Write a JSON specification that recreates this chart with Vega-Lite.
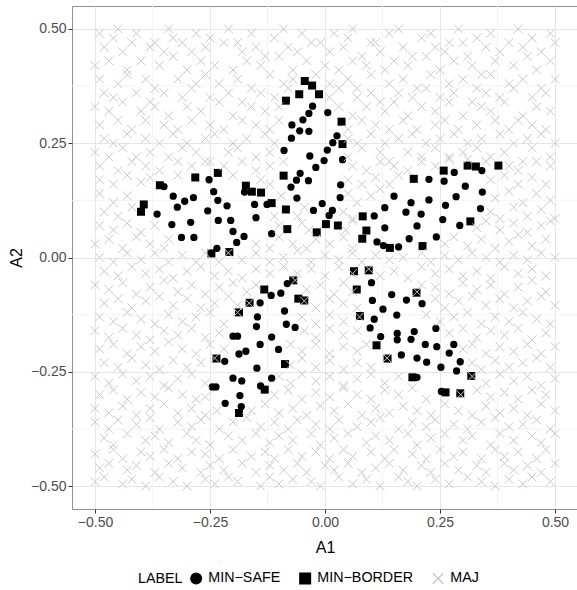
{
"$schema":"https://vega.github.io/schema/vega-lite/v6.json",
"autosize":{"type":"none"},
"padding":{"left":72,"top":6,"right":0,"bottom":80},
"width":506,"height":503,
"background":"white",
"config":{"font":"Liberation Sans","view":{"stroke":"#8f8f8f","strokeWidth":1},
"axis":{"labelFontSize":14,"labelColor":"#4d4d4d","titleFontSize":16,"titleFontWeight":"normal","titleColor":"#000000","tickColor":"#333333","tickSize":4,"domain":false,"gridColor":"#e6e6e6","gridWidth":1,"labelPadding":2}},
"datasets":{
"minor":[{"v":-0.375},{"v":-0.125},{"v":0.125},{"v":0.375}],
"safe":[
{"a":-0.330,"b":0.134},{"a":-0.305,"b":0.123},{"a":-0.286,"b":0.131},{"a":-0.321,"b":0.110},{"a":-0.365,"b":0.095},{"a":-0.333,"b":0.072},{"a":-0.292,"b":0.077},{"a":-0.312,"b":0.044},{"a":-0.285,"b":0.044},{"a":-0.242,"b":0.144},{"a":-0.233,"b":0.125},{"a":-0.255,"b":0.102},{"a":-0.213,"b":0.113},{"a":-0.232,"b":0.081},{"a":-0.205,"b":0.081},{"a":-0.200,"b":0.057},{"a":-0.176,"b":0.046},{"a":-0.192,"b":0.033},{"a":-0.235,"b":0.020},{"a":-0.153,"b":0.116},{"a":-0.150,"b":0.087},{"a":-0.126,"b":0.116},{"a":-0.116,"b":0.052},{"a":-0.350,"b":0.155},{"a":-0.175,"b":0.143},{"a":-0.252,"b":0.170},
{"a":-0.027,"b":0.331},{"a":-0.035,"b":0.315},{"a":0.006,"b":0.317},{"a":-0.048,"b":0.301},{"a":-0.072,"b":0.290},{"a":-0.055,"b":0.277},{"a":-0.035,"b":0.276},{"a":-0.073,"b":0.261},{"a":0.026,"b":0.266},{"a":0.017,"b":0.251},{"a":0.005,"b":0.235},{"a":-0.089,"b":0.234},{"a":-0.033,"b":0.222},{"a":-0.002,"b":0.212},{"a":0.038,"b":0.214},{"a":-0.020,"b":0.197},{"a":-0.054,"b":0.184},{"a":-0.062,"b":0.169},{"a":-0.036,"b":0.168},{"a":-0.074,"b":0.154},{"a":0.034,"b":0.159},{"a":-0.061,"b":0.130},{"a":0.033,"b":0.131},{"a":-0.006,"b":0.118},{"a":-0.025,"b":0.103},{"a":0.016,"b":0.103},{"a":0.009,"b":0.092},
{"a":0.281,"b":0.186},{"a":0.341,"b":0.190},{"a":0.226,"b":0.171},{"a":0.259,"b":0.167},{"a":0.305,"b":0.156},{"a":0.342,"b":0.143},{"a":0.150,"b":0.134},{"a":0.285,"b":0.133},{"a":0.226,"b":0.126},{"a":0.187,"b":0.120},{"a":0.262,"b":0.114},{"a":0.130,"b":0.109},{"a":0.338,"b":0.107},{"a":0.176,"b":0.099},{"a":0.209,"b":0.095},{"a":0.107,"b":0.091},{"a":0.256,"b":0.083},{"a":0.293,"b":0.070},{"a":0.200,"b":0.069},{"a":0.130,"b":0.065},{"a":0.242,"b":0.045},{"a":0.183,"b":0.041},{"a":0.113,"b":0.034},{"a":0.127,"b":0.026},{"a":0.160,"b":0.023},
{"a":-0.082,"b":-0.057},{"a":-0.096,"b":-0.078},{"a":-0.117,"b":-0.083},{"a":-0.141,"b":-0.099},{"a":-0.088,"b":-0.117},{"a":-0.147,"b":-0.130},{"a":-0.149,"b":-0.151},{"a":-0.084,"b":-0.146},{"a":-0.065,"b":-0.153},{"a":-0.200,"b":-0.172},{"a":-0.190,"b":-0.172},{"a":-0.116,"b":-0.174},{"a":-0.141,"b":-0.190},{"a":-0.101,"b":-0.201},{"a":-0.172,"b":-0.205},{"a":-0.187,"b":-0.211},{"a":-0.218,"b":-0.227},{"a":-0.148,"b":-0.242},{"a":-0.200,"b":-0.264},{"a":-0.181,"b":-0.270},{"a":-0.116,"b":-0.264},{"a":-0.245,"b":-0.283},{"a":-0.237,"b":-0.283},{"a":-0.140,"b":-0.281},{"a":-0.185,"b":-0.302},{"a":-0.217,"b":-0.319},{"a":-0.182,"b":-0.326},
{"a":0.101,"b":-0.055},{"a":0.145,"b":-0.081},{"a":0.103,"b":-0.094},{"a":0.177,"b":-0.093},{"a":0.211,"b":-0.101},{"a":0.126,"b":-0.113},{"a":0.156,"b":-0.126},{"a":0.107,"b":-0.135},{"a":0.098,"b":-0.154},{"a":0.241,"b":-0.155},{"a":0.157,"b":-0.166},{"a":0.194,"b":-0.162},{"a":0.121,"b":-0.173},{"a":0.157,"b":-0.180},{"a":0.187,"b":-0.179},{"a":0.218,"b":-0.190},{"a":0.243,"b":-0.195},{"a":0.280,"b":-0.190},{"a":0.270,"b":-0.209},{"a":0.166,"b":-0.213},{"a":0.200,"b":-0.220},{"a":0.221,"b":-0.229},{"a":0.294,"b":-0.228},{"a":0.252,"b":-0.240},{"a":0.286,"b":-0.248},{"a":0.200,"b":-0.262},{"a":0.253,"b":-0.293}
],
"border":[
{"a":-0.282,"b":0.175},{"a":-0.233,"b":0.185},{"a":-0.359,"b":0.158},{"a":-0.172,"b":0.157},{"a":-0.159,"b":0.144},{"a":-0.139,"b":0.142},{"a":-0.394,"b":0.116},{"a":-0.400,"b":0.100},{"a":-0.116,"b":0.119},{"a":-0.090,"b":0.179},{"a":-0.085,"b":0.105},{"a":-0.247,"b":0.009},{"a":-0.208,"b":0.012},
{"a":-0.044,"b":0.386},{"a":-0.028,"b":0.376},{"a":-0.056,"b":0.357},{"a":-0.013,"b":0.357},{"a":-0.085,"b":0.343},{"a":0.036,"b":0.297},{"a":0.038,"b":0.248},{"a":0.002,"b":0.073},{"a":0.028,"b":0.070},{"a":-0.082,"b":0.062},{"a":-0.018,"b":0.055},
{"a":0.082,"b":0.090},{"a":0.258,"b":0.190},{"a":0.310,"b":0.201},{"a":0.328,"b":0.199},{"a":0.377,"b":0.201},{"a":0.193,"b":0.172},{"a":0.090,"b":0.059},{"a":0.081,"b":0.041},{"a":0.316,"b":0.079},{"a":0.212,"b":0.025},{"a":0.141,"b":0.021},
{"a":-0.069,"b":-0.050},{"a":-0.132,"b":-0.070},{"a":-0.058,"b":-0.090},{"a":-0.045,"b":-0.094},{"a":-0.164,"b":-0.099},{"a":-0.187,"b":-0.120},{"a":-0.236,"b":-0.221},{"a":-0.087,"b":-0.233},{"a":-0.131,"b":-0.289},{"a":-0.187,"b":-0.340},
{"a":0.063,"b":-0.030},{"a":0.095,"b":-0.028},{"a":0.069,"b":-0.070},{"a":0.199,"b":-0.077},{"a":0.076,"b":-0.128},{"a":0.112,"b":-0.192},{"a":0.136,"b":-0.221},{"a":0.190,"b":-0.262},{"a":0.262,"b":-0.295},{"a":0.318,"b":-0.259},{"a":0.294,"b":-0.297}
],
"maj":[
{"a":-0.49,"b":0.49},{"a":-0.46,"b":0.48},{"a":-0.45,"b":0.5},{"a":-0.41,"b":0.49},{"a":-0.37,"b":0.47},{"a":-0.34,"b":0.5},{"a":-0.33,"b":0.48},{"a":-0.28,"b":0.49},{"a":-0.25,"b":0.48},{"a":-0.21,"b":0.5},{"a":-0.19,"b":0.47},{"a":-0.16,"b":0.49},{"a":-0.11,"b":0.48},{"a":-0.09,"b":0.5},{"a":-0.05,"b":0.49},{"a":-0.03,"b":0.47},{"a":0.02,"b":0.49},{"a":0.05,"b":0.48},{"a":0.06,"b":0.5},{"a":0.1,"b":0.47},{"a":0.14,"b":0.49},{"a":0.16,"b":0.5},{"a":0.21,"b":0.48},{"a":0.23,"b":0.49},{"a":0.27,"b":0.47},{"a":0.29,"b":0.5},{"a":0.33,"b":0.48},{"a":0.36,"b":0.49},{"a":0.4,"b":0.47},{"a":0.42,"b":0.5},{"a":0.45,"b":0.48},{"a":0.49,"b":0.49},
{"a":-0.48,"b":0.46},{"a":-0.44,"b":0.45},{"a":-0.42,"b":0.47},{"a":-0.38,"b":0.46},{"a":-0.35,"b":0.45},{"a":-0.31,"b":0.47},{"a":-0.29,"b":0.45},{"a":-0.26,"b":0.46},{"a":-0.22,"b":0.47},{"a":-0.18,"b":0.45},{"a":-0.15,"b":0.46},{"a":-0.13,"b":0.44},{"a":-0.08,"b":0.46},{"a":-0.06,"b":0.45},{"a":-0.01,"b":0.47},{"a":0.01,"b":0.45},{"a":0.04,"b":0.46},{"a":0.08,"b":0.44},{"a":0.11,"b":0.47},{"a":0.12,"b":0.45},{"a":0.17,"b":0.46},{"a":0.19,"b":0.44},{"a":0.24,"b":0.46},{"a":0.26,"b":0.45},{"a":0.3,"b":0.47},{"a":0.31,"b":0.44},{"a":0.35,"b":0.46},{"a":0.38,"b":0.45},{"a":0.43,"b":0.46},{"a":0.47,"b":0.45},{"a":0.5,"b":0.47},
{"a":-0.5,"b":0.42},{"a":-0.47,"b":0.43},{"a":-0.43,"b":0.41},{"a":-0.4,"b":0.43},{"a":-0.36,"b":0.42},{"a":-0.33,"b":0.44},{"a":-0.3,"b":0.41},{"a":-0.27,"b":0.43},{"a":-0.24,"b":0.42},{"a":-0.2,"b":0.41},{"a":-0.17,"b":0.43},{"a":-0.14,"b":0.42},{"a":-0.1,"b":0.44},{"a":-0.07,"b":0.41},{"a":-0.04,"b":0.43},{"a":0,"b":0.42},{"a":0.03,"b":0.41},{"a":0.06,"b":0.43},{"a":0.09,"b":0.42},{"a":0.13,"b":0.41},{"a":0.15,"b":0.43},{"a":0.18,"b":0.42},{"a":0.22,"b":0.44},{"a":0.25,"b":0.41},{"a":0.28,"b":0.43},{"a":0.32,"b":0.42},{"a":0.34,"b":0.4},{"a":0.37,"b":0.43},{"a":0.41,"b":0.42},{"a":0.44,"b":0.44},{"a":0.46,"b":0.41},{"a":0.49,"b":0.43},
{"a":-0.49,"b":0.39},{"a":-0.45,"b":0.38},{"a":-0.43,"b":0.4},{"a":-0.39,"b":0.39},{"a":-0.37,"b":0.37},{"a":-0.32,"b":0.39},{"a":-0.28,"b":0.38},{"a":-0.26,"b":0.4},{"a":-0.23,"b":0.38},{"a":-0.19,"b":0.39},{"a":-0.16,"b":0.37},{"a":-0.12,"b":0.4},{"a":-0.09,"b":0.38},{"a":-0.07,"b":0.39},{"a":-0.02,"b":0.4},{"a":0.01,"b":0.38},{"a":0.05,"b":0.39},{"a":0.07,"b":0.37},{"a":0.1,"b":0.4},{"a":0.14,"b":0.38},{"a":0.17,"b":0.39},{"a":0.2,"b":0.37},{"a":0.23,"b":0.4},{"a":0.27,"b":0.38},{"a":0.3,"b":0.39},{"a":0.33,"b":0.37},{"a":0.36,"b":0.4},{"a":0.4,"b":0.38},{"a":0.43,"b":0.39},{"a":0.47,"b":0.37},{"a":0.5,"b":0.39},
{"a":-0.48,"b":0.36},{"a":-0.46,"b":0.35},{"a":-0.41,"b":0.36},{"a":-0.38,"b":0.34},{"a":-0.35,"b":0.36},{"a":-0.31,"b":0.35},{"a":-0.29,"b":0.37},{"a":-0.25,"b":0.35},{"a":-0.21,"b":0.36},{"a":-0.18,"b":0.34},{"a":-0.14,"b":0.36},{"a":-0.11,"b":0.35},{"a":-0.08,"b":0.37},{"a":0.01,"b":0.35},{"a":0.03,"b":0.37},{"a":0.07,"b":0.35},{"a":0.1,"b":0.36},{"a":0.12,"b":0.34},{"a":0.16,"b":0.36},{"a":0.19,"b":0.35},{"a":0.22,"b":0.37},{"a":0.25,"b":0.35},{"a":0.28,"b":0.36},{"a":0.32,"b":0.34},{"a":0.35,"b":0.36},{"a":0.38,"b":0.35},{"a":0.41,"b":0.37},{"a":0.45,"b":0.35},{"a":0.48,"b":0.36},
{"a":-0.5,"b":0.33},{"a":-0.47,"b":0.32},{"a":-0.44,"b":0.34},{"a":-0.4,"b":0.32},{"a":-0.37,"b":0.33},{"a":-0.34,"b":0.31},{"a":-0.3,"b":0.33},{"a":-0.27,"b":0.32},{"a":-0.23,"b":0.34},{"a":-0.2,"b":0.31},{"a":-0.16,"b":0.33},{"a":-0.13,"b":0.32},{"a":-0.1,"b":0.33},{"a":0.03,"b":0.33},{"a":0.06,"b":0.31},{"a":0.09,"b":0.33},{"a":0.13,"b":0.32},{"a":0.15,"b":0.34},{"a":0.18,"b":0.31},{"a":0.21,"b":0.33},{"a":0.24,"b":0.32},{"a":0.27,"b":0.34},{"a":0.3,"b":0.31},{"a":0.34,"b":0.33},{"a":0.36,"b":0.32},{"a":0.39,"b":0.34},{"a":0.43,"b":0.31},{"a":0.46,"b":0.33},{"a":0.49,"b":0.32},
{"a":-0.49,"b":0.29},{"a":-0.45,"b":0.3},{"a":-0.42,"b":0.28},{"a":-0.39,"b":0.3},{"a":-0.35,"b":0.29},{"a":-0.32,"b":0.28},{"a":-0.29,"b":0.3},{"a":-0.25,"b":0.29},{"a":-0.22,"b":0.28},{"a":-0.18,"b":0.3},{"a":-0.15,"b":0.29},{"a":-0.12,"b":0.28},{"a":-0.1,"b":0.3},{"a":0.05,"b":0.28},{"a":0.08,"b":0.3},{"a":0.11,"b":0.29},{"a":0.14,"b":0.28},{"a":0.17,"b":0.3},{"a":0.2,"b":0.28},{"a":0.24,"b":0.29},{"a":0.26,"b":0.3},{"a":0.29,"b":0.28},{"a":0.33,"b":0.29},{"a":0.37,"b":0.3},{"a":0.4,"b":0.28},{"a":0.42,"b":0.3},{"a":0.45,"b":0.29},{"a":0.48,"b":0.28},
{"a":-0.48,"b":0.26},{"a":-0.46,"b":0.25},{"a":-0.43,"b":0.27},{"a":-0.39,"b":0.26},{"a":-0.36,"b":0.25},{"a":-0.33,"b":0.27},{"a":-0.3,"b":0.25},{"a":-0.26,"b":0.26},{"a":-0.24,"b":0.27},{"a":-0.2,"b":0.25},{"a":-0.17,"b":0.26},{"a":-0.13,"b":0.27},{"a":-0.11,"b":0.25},{"a":0.05,"b":0.26},{"a":0.07,"b":0.25},{"a":0.1,"b":0.27},{"a":0.13,"b":0.25},{"a":0.16,"b":0.26},{"a":0.19,"b":0.27},{"a":0.22,"b":0.25},{"a":0.25,"b":0.26},{"a":0.28,"b":0.27},{"a":0.31,"b":0.25},{"a":0.34,"b":0.26},{"a":0.38,"b":0.27},{"a":0.41,"b":0.25},{"a":0.44,"b":0.26},{"a":0.47,"b":0.27},{"a":0.5,"b":0.25},
{"a":-0.5,"b":0.23},{"a":-0.47,"b":0.22},{"a":-0.44,"b":0.24},{"a":-0.41,"b":0.22},{"a":-0.38,"b":0.23},{"a":-0.34,"b":0.22},{"a":-0.31,"b":0.24},{"a":-0.28,"b":0.23},{"a":-0.25,"b":0.21},{"a":-0.21,"b":0.23},{"a":-0.19,"b":0.24},{"a":-0.15,"b":0.22},{"a":-0.12,"b":0.23},{"a":0.05,"b":0.22},{"a":0.08,"b":0.24},{"a":0.12,"b":0.23},{"a":0.14,"b":0.21},{"a":0.18,"b":0.23},{"a":0.21,"b":0.22},{"a":0.24,"b":0.24},{"a":0.27,"b":0.22},{"a":0.3,"b":0.23},{"a":0.33,"b":0.24},{"a":0.36,"b":0.22},{"a":0.39,"b":0.23},{"a":0.43,"b":0.21},{"a":0.45,"b":0.24},{"a":0.49,"b":0.22},
{"a":-0.49,"b":0.2},{"a":-0.45,"b":0.19},{"a":-0.42,"b":0.21},{"a":-0.39,"b":0.2},{"a":-0.36,"b":0.19},{"a":-0.32,"b":0.21},{"a":-0.29,"b":0.2},{"a":-0.26,"b":0.21},{"a":-0.22,"b":0.2},{"a":-0.18,"b":0.21},{"a":-0.15,"b":0.19},{"a":-0.12,"b":0.2},{"a":-0.09,"b":0.21},{"a":0.06,"b":0.2},{"a":0.09,"b":0.19},{"a":0.12,"b":0.21},{"a":0.15,"b":0.2},{"a":0.18,"b":0.19},{"a":0.21,"b":0.21},{"a":0.24,"b":0.2},{"a":0.27,"b":0.215},{"a":0.31,"b":0.215},{"a":0.35,"b":0.21},{"a":0.4,"b":0.2},{"a":0.42,"b":0.19},{"a":0.46,"b":0.21},{"a":0.49,"b":0.2},
{"a":-0.49,"b":0.17},{"a":-0.46,"b":0.16},{"a":-0.43,"b":0.18},{"a":-0.4,"b":0.165},{"a":-0.38,"b":0.175},{"a":-0.32,"b":0.18},{"a":-0.2,"b":0.18},{"a":-0.14,"b":0.17},{"a":-0.12,"b":0.16},{"a":0.05,"b":0.17},{"a":0.08,"b":0.16},{"a":0.11,"b":0.175},{"a":0.14,"b":0.16},{"a":0.16,"b":0.18},{"a":0.36,"b":0.17},{"a":0.39,"b":0.18},{"a":0.42,"b":0.16},{"a":0.45,"b":0.175},{"a":0.48,"b":0.16},
{"a":-0.49,"b":0.14},{"a":-0.46,"b":0.12},{"a":-0.43,"b":0.135},{"a":-0.095,"b":0.135},{"a":0.05,"b":0.14},{"a":0.07,"b":0.12},{"a":0.1,"b":0.135},{"a":0.12,"b":0.15},{"a":0.37,"b":0.13},{"a":0.4,"b":0.145},{"a":0.43,"b":0.12},{"a":0.46,"b":0.14},{"a":0.49,"b":0.125},
{"a":-0.48,"b":0.1},{"a":-0.45,"b":0.09},{"a":-0.42,"b":0.11},{"a":-0.11,"b":0.09},{"a":-0.06,"b":0.09},{"a":-0.045,"b":0.11},{"a":0.04,"b":0.1},{"a":0.06,"b":0.085},{"a":0.36,"b":0.1},{"a":0.38,"b":0.085},{"a":0.41,"b":0.11},{"a":0.44,"b":0.09},{"a":0.47,"b":0.105},{"a":0.5,"b":0.085},
{"a":-0.49,"b":0.07},{"a":-0.46,"b":0.06},{"a":-0.43,"b":0.075},{"a":-0.4,"b":0.055},{"a":-0.37,"b":0.07},{"a":-0.1,"b":0.07},{"a":-0.05,"b":0.075},{"a":-0.035,"b":0.06},{"a":0.045,"b":0.06},{"a":0.06,"b":0.08},{"a":0.33,"b":0.065},{"a":0.35,"b":0.08},{"a":0.38,"b":0.06},{"a":0.41,"b":0.075},{"a":0.44,"b":0.055},{"a":0.47,"b":0.07},{"a":0.49,"b":0.08},
{"a":-0.5,"b":0.03},{"a":-0.47,"b":0.04},{"a":-0.44,"b":0.02},{"a":-0.41,"b":0.045},{"a":-0.38,"b":0.03},{"a":-0.35,"b":0.02},{"a":-0.34,"b":0.04},{"a":-0.15,"b":0.03},{"a":-0.12,"b":0.02},{"a":-0.1,"b":0.045},{"a":-0.07,"b":0.03},{"a":-0.04,"b":0.02},{"a":-0.02,"b":0.04},{"a":0.01,"b":0.03},{"a":0.04,"b":0.045},{"a":0.06,"b":0.02},{"a":0.26,"b":0.03},{"a":0.28,"b":0.045},{"a":0.31,"b":0.025},{"a":0.34,"b":0.04},{"a":0.37,"b":0.02},{"a":0.4,"b":0.035},{"a":0.42,"b":0.05},{"a":0.45,"b":0.025},{"a":0.48,"b":0.04},
{"a":-0.49,"b":0},{"a":-0.46,"b":-0.01},{"a":-0.43,"b":0.01},{"a":-0.4,"b":-0.005},{"a":-0.37,"b":0.01},{"a":-0.34,"b":-0.01},{"a":-0.31,"b":0.005},{"a":-0.28,"b":-0.01},{"a":-0.26,"b":0.01},{"a":-0.23,"b":-0.01},{"a":-0.21,"b":0.01},{"a":-0.18,"b":-0.005},{"a":-0.15,"b":0.01},{"a":-0.12,"b":-0.01},{"a":-0.09,"b":0},{"a":-0.06,"b":0.015},{"a":-0.03,"b":-0.01},{"a":0,"b":0.005},{"a":0.03,"b":-0.005},{"a":0.06,"b":0.01},{"a":0.08,"b":-0.01},{"a":0.11,"b":0.005},{"a":0.14,"b":-0.005},{"a":0.17,"b":0},{"a":0.21,"b":0.01},{"a":0.23,"b":-0.01},{"a":0.26,"b":0.005},{"a":0.29,"b":-0.005},{"a":0.32,"b":0.01},{"a":0.35,"b":0},{"a":0.38,"b":-0.01},{"a":0.41,"b":0.005},{"a":0.44,"b":-0.005},{"a":0.47,"b":0.01},{"a":0.5,"b":0},
{"a":-0.48,"b":-0.03},{"a":-0.45,"b":-0.04},{"a":-0.42,"b":-0.02},{"a":-0.39,"b":-0.035},{"a":-0.36,"b":-0.025},{"a":-0.33,"b":-0.045},{"a":-0.3,"b":-0.03},{"a":-0.27,"b":-0.02},{"a":-0.24,"b":-0.04},{"a":-0.21,"b":-0.03},{"a":-0.18,"b":-0.045},{"a":-0.15,"b":-0.025},{"a":-0.12,"b":-0.035},{"a":-0.09,"b":-0.02},{"a":-0.06,"b":-0.035},{"a":-0.03,"b":-0.025},{"a":0,"b":-0.04},{"a":0.03,"b":-0.02},{"a":0.06,"b":-0.035},{"a":0.095,"b":-0.025},{"a":0.12,"b":-0.04},{"a":0.15,"b":-0.03},{"a":0.18,"b":-0.045},{"a":0.21,"b":-0.02},{"a":0.24,"b":-0.035},{"a":0.27,"b":-0.025},{"a":0.3,"b":-0.04},{"a":0.33,"b":-0.03},{"a":0.36,"b":-0.045},{"a":0.39,"b":-0.02},{"a":0.42,"b":-0.035},{"a":0.45,"b":-0.025},{"a":0.48,"b":-0.04},
{"a":-0.5,"b":-0.06},{"a":-0.47,"b":-0.07},{"a":-0.44,"b":-0.055},{"a":-0.41,"b":-0.08},{"a":-0.38,"b":-0.065},{"a":-0.35,"b":-0.05},{"a":-0.32,"b":-0.075},{"a":-0.29,"b":-0.06},{"a":-0.26,"b":-0.08},{"a":-0.23,"b":-0.065},{"a":-0.2,"b":-0.055},{"a":-0.17,"b":-0.075},{"a":-0.15,"b":-0.06},{"a":-0.065,"b":-0.05},{"a":-0.04,"b":-0.07},{"a":-0.01,"b":-0.06},{"a":0.02,"b":-0.08},{"a":0.04,"b":-0.055},{"a":0.06,"b":-0.075},{"a":0.21,"b":-0.06},{"a":0.2,"b":-0.075},{"a":0.24,"b":-0.065},{"a":0.27,"b":-0.08},{"a":0.3,"b":-0.055},{"a":0.33,"b":-0.07},{"a":0.36,"b":-0.06},{"a":0.39,"b":-0.08},{"a":0.42,"b":-0.065},{"a":0.45,"b":-0.05},{"a":0.48,"b":-0.075},
{"a":-0.48,"b":-0.1},{"a":-0.45,"b":-0.09},{"a":-0.42,"b":-0.11},{"a":-0.39,"b":-0.095},{"a":-0.36,"b":-0.085},{"a":-0.33,"b":-0.105},{"a":-0.3,"b":-0.09},{"a":-0.27,"b":-0.11},{"a":-0.24,"b":-0.1},{"a":-0.21,"b":-0.085},{"a":-0.19,"b":-0.105},{"a":-0.165,"b":-0.1},{"a":-0.045,"b":-0.095},{"a":-0.02,"b":-0.11},{"a":0.01,"b":-0.09},{"a":0.04,"b":-0.1},{"a":0.07,"b":-0.11},{"a":0.24,"b":-0.09},{"a":0.26,"b":-0.11},{"a":0.29,"b":-0.095},{"a":0.32,"b":-0.085},{"a":0.35,"b":-0.105},{"a":0.38,"b":-0.09},{"a":0.41,"b":-0.11},{"a":0.44,"b":-0.095},{"a":0.47,"b":-0.085},{"a":0.5,"b":-0.105},
{"a":-0.49,"b":-0.13},{"a":-0.46,"b":-0.14},{"a":-0.43,"b":-0.12},{"a":-0.4,"b":-0.135},{"a":-0.37,"b":-0.145},{"a":-0.34,"b":-0.125},{"a":-0.31,"b":-0.14},{"a":-0.28,"b":-0.13},{"a":-0.25,"b":-0.12},{"a":-0.22,"b":-0.145},{"a":-0.19,"b":-0.12},{"a":-0.05,"b":-0.13},{"a":-0.02,"b":-0.145},{"a":0.01,"b":-0.125},{"a":0.04,"b":-0.14},{"a":0.075,"b":-0.13},{"a":0.22,"b":-0.125},{"a":0.25,"b":-0.14},{"a":0.28,"b":-0.13},{"a":0.31,"b":-0.12},{"a":0.34,"b":-0.145},{"a":0.37,"b":-0.13},{"a":0.4,"b":-0.14},{"a":0.43,"b":-0.12},{"a":0.46,"b":-0.135},{"a":0.49,"b":-0.145},
{"a":-0.5,"b":-0.16},{"a":-0.47,"b":-0.175},{"a":-0.44,"b":-0.155},{"a":-0.41,"b":-0.17},{"a":-0.38,"b":-0.18},{"a":-0.35,"b":-0.16},{"a":-0.32,"b":-0.17},{"a":-0.29,"b":-0.155},{"a":-0.26,"b":-0.175},{"a":-0.23,"b":-0.165},{"a":-0.045,"b":-0.16},{"a":-0.02,"b":-0.175},{"a":0.01,"b":-0.155},{"a":0.04,"b":-0.17},{"a":0.07,"b":-0.16},{"a":0.27,"b":-0.165},{"a":0.3,"b":-0.155},{"a":0.33,"b":-0.175},{"a":0.36,"b":-0.16},{"a":0.39,"b":-0.17},{"a":0.42,"b":-0.155},{"a":0.45,"b":-0.18},{"a":0.48,"b":-0.165},
{"a":-0.49,"b":-0.2},{"a":-0.46,"b":-0.19},{"a":-0.43,"b":-0.21},{"a":-0.4,"b":-0.195},{"a":-0.37,"b":-0.205},{"a":-0.34,"b":-0.185},{"a":-0.31,"b":-0.2},{"a":-0.28,"b":-0.21},{"a":-0.25,"b":-0.19},{"a":-0.22,"b":-0.2},{"a":-0.075,"b":-0.19},{"a":-0.05,"b":-0.205},{"a":-0.02,"b":-0.19},{"a":0.01,"b":-0.21},{"a":0.04,"b":-0.195},{"a":0.07,"b":-0.205},{"a":0.09,"b":-0.19},{"a":0.3,"b":-0.2},{"a":0.32,"b":-0.19},{"a":0.35,"b":-0.21},{"a":0.38,"b":-0.195},{"a":0.41,"b":-0.205},{"a":0.44,"b":-0.19},{"a":0.47,"b":-0.21},{"a":0.5,"b":-0.195},
{"a":-0.48,"b":-0.23},{"a":-0.45,"b":-0.24},{"a":-0.42,"b":-0.22},{"a":-0.39,"b":-0.235},{"a":-0.36,"b":-0.245},{"a":-0.33,"b":-0.225},{"a":-0.3,"b":-0.24},{"a":-0.27,"b":-0.23},{"a":-0.24,"b":-0.22},{"a":-0.075,"b":-0.235},{"a":-0.05,"b":-0.22},{"a":-0.02,"b":-0.24},{"a":0.01,"b":-0.225},{"a":0.04,"b":-0.245},{"a":0.07,"b":-0.23},{"a":0.1,"b":-0.24},{"a":0.135,"b":-0.22},{"a":0.32,"b":-0.23},{"a":0.34,"b":-0.245},{"a":0.37,"b":-0.225},{"a":0.4,"b":-0.24},{"a":0.43,"b":-0.23},{"a":0.46,"b":-0.22},{"a":0.49,"b":-0.24},
{"a":-0.5,"b":-0.26},{"a":-0.47,"b":-0.275},{"a":-0.44,"b":-0.255},{"a":-0.41,"b":-0.27},{"a":-0.38,"b":-0.26},{"a":-0.35,"b":-0.28},{"a":-0.32,"b":-0.265},{"a":-0.29,"b":-0.255},{"a":-0.26,"b":-0.275},{"a":-0.1,"b":-0.26},{"a":-0.075,"b":-0.275},{"a":-0.05,"b":-0.255},{"a":-0.02,"b":-0.27},{"a":0.01,"b":-0.26},{"a":0.04,"b":-0.28},{"a":0.07,"b":-0.265},{"a":0.1,"b":-0.255},{"a":0.13,"b":-0.275},{"a":0.16,"b":-0.26},{"a":0.32,"b":-0.26},{"a":0.35,"b":-0.275},{"a":0.38,"b":-0.255},{"a":0.41,"b":-0.27},{"a":0.44,"b":-0.26},{"a":0.47,"b":-0.28},{"a":0.5,"b":-0.265},
{"a":-0.49,"b":-0.3},{"a":-0.46,"b":-0.29},{"a":-0.43,"b":-0.31},{"a":-0.4,"b":-0.295},{"a":-0.37,"b":-0.305},{"a":-0.34,"b":-0.285},{"a":-0.31,"b":-0.3},{"a":-0.28,"b":-0.31},{"a":-0.26,"b":-0.305},{"a":-0.11,"b":-0.3},{"a":-0.08,"b":-0.29},{"a":-0.05,"b":-0.31},{"a":-0.02,"b":-0.295},{"a":0.01,"b":-0.305},{"a":0.04,"b":-0.285},{"a":0.07,"b":-0.3},{"a":0.1,"b":-0.31},{"a":0.13,"b":-0.29},{"a":0.16,"b":-0.3},{"a":0.19,"b":-0.285},{"a":0.22,"b":-0.31},{"a":0.295,"b":-0.3},{"a":0.33,"b":-0.29},{"a":0.36,"b":-0.305},{"a":0.39,"b":-0.295},{"a":0.42,"b":-0.31},{"a":0.45,"b":-0.29},{"a":0.48,"b":-0.3},
{"a":-0.5,"b":-0.33},{"a":-0.47,"b":-0.34},{"a":-0.44,"b":-0.325},{"a":-0.41,"b":-0.345},{"a":-0.38,"b":-0.33},{"a":-0.35,"b":-0.32},{"a":-0.32,"b":-0.34},{"a":-0.29,"b":-0.33},{"a":-0.26,"b":-0.345},{"a":-0.235,"b":-0.335},{"a":-0.16,"b":-0.335},{"a":-0.13,"b":-0.32},{"a":-0.1,"b":-0.34},{"a":-0.07,"b":-0.33},{"a":-0.04,"b":-0.345},{"a":-0.01,"b":-0.325},{"a":0.02,"b":-0.335},{"a":0.05,"b":-0.32},{"a":0.08,"b":-0.345},{"a":0.11,"b":-0.33},{"a":0.14,"b":-0.34},{"a":0.17,"b":-0.325},{"a":0.2,"b":-0.335},{"a":0.23,"b":-0.345},{"a":0.26,"b":-0.32},{"a":0.29,"b":-0.335},{"a":0.32,"b":-0.345},{"a":0.35,"b":-0.325},{"a":0.38,"b":-0.34},{"a":0.41,"b":-0.33},{"a":0.44,"b":-0.345},{"a":0.47,"b":-0.32},{"a":0.5,"b":-0.335},
{"a":-0.5,"b":-0.36},{"a":-0.47,"b":-0.375},{"a":-0.45,"b":-0.355},{"a":-0.41,"b":-0.365},{"a":-0.38,"b":-0.35},{"a":-0.36,"b":-0.375},{"a":-0.32,"b":-0.36},{"a":-0.29,"b":-0.37},{"a":-0.27,"b":-0.355},{"a":-0.23,"b":-0.375},{"a":-0.2,"b":-0.36},{"a":-0.17,"b":-0.35},{"a":-0.14,"b":-0.37},{"a":-0.11,"b":-0.36},{"a":-0.08,"b":-0.375},{"a":-0.06,"b":-0.355},{"a":-0.02,"b":-0.365},{"a":0.01,"b":-0.375},{"a":0.03,"b":-0.355},{"a":0.07,"b":-0.37},{"a":0.1,"b":-0.36},{"a":0.12,"b":-0.35},{"a":0.16,"b":-0.375},{"a":0.19,"b":-0.36},{"a":0.22,"b":-0.37},{"a":0.24,"b":-0.355},{"a":0.28,"b":-0.365},{"a":0.31,"b":-0.375},{"a":0.34,"b":-0.36},{"a":0.37,"b":-0.35},{"a":0.4,"b":-0.37},{"a":0.43,"b":-0.365},{"a":0.46,"b":-0.355},{"a":0.49,"b":-0.375},
{"a":-0.48,"b":-0.395},{"a":-0.46,"b":-0.41},{"a":-0.43,"b":-0.385},{"a":-0.39,"b":-0.4},{"a":-0.37,"b":-0.39},{"a":-0.34,"b":-0.405},{"a":-0.3,"b":-0.385},{"a":-0.28,"b":-0.4},{"a":-0.25,"b":-0.41},{"a":-0.21,"b":-0.39},{"a":-0.18,"b":-0.4},{"a":-0.15,"b":-0.385},{"a":-0.12,"b":-0.405},{"a":-0.1,"b":-0.39},{"a":-0.07,"b":-0.4},{"a":-0.03,"b":-0.385},{"a":-0.01,"b":-0.41},{"a":0.02,"b":-0.395},{"a":0.05,"b":-0.385},{"a":0.09,"b":-0.405},{"a":0.11,"b":-0.39},{"a":0.14,"b":-0.4},{"a":0.18,"b":-0.385},{"a":0.2,"b":-0.41},{"a":0.23,"b":-0.395},{"a":0.26,"b":-0.385},{"a":0.3,"b":-0.4},{"a":0.32,"b":-0.39},{"a":0.36,"b":-0.41},{"a":0.38,"b":-0.385},{"a":0.41,"b":-0.4},{"a":0.45,"b":-0.39},{"a":0.47,"b":-0.405},{"a":0.5,"b":-0.385},
{"a":-0.5,"b":-0.43},{"a":-0.46,"b":-0.42},{"a":-0.44,"b":-0.44},{"a":-0.4,"b":-0.425},{"a":-0.38,"b":-0.435},{"a":-0.35,"b":-0.42},{"a":-0.32,"b":-0.44},{"a":-0.29,"b":-0.425},{"a":-0.26,"b":-0.43},{"a":-0.23,"b":-0.44},{"a":-0.2,"b":-0.42},{"a":-0.16,"b":-0.435},{"a":-0.13,"b":-0.425},{"a":-0.11,"b":-0.44},{"a":-0.08,"b":-0.42},{"a":-0.05,"b":-0.435},{"a":-0.02,"b":-0.425},{"a":0.01,"b":-0.44},{"a":0.04,"b":-0.42},{"a":0.06,"b":-0.435},{"a":0.1,"b":-0.425},{"a":0.13,"b":-0.44},{"a":0.15,"b":-0.42},{"a":0.19,"b":-0.43},{"a":0.22,"b":-0.44},{"a":0.25,"b":-0.42},{"a":0.28,"b":-0.435},{"a":0.3,"b":-0.425},{"a":0.34,"b":-0.44},{"a":0.37,"b":-0.42},{"a":0.39,"b":-0.435},{"a":0.42,"b":-0.425},{"a":0.46,"b":-0.44},{"a":0.48,"b":-0.42},
{"a":-0.49,"b":-0.46},{"a":-0.47,"b":-0.45},{"a":-0.43,"b":-0.465},{"a":-0.41,"b":-0.455},{"a":-0.37,"b":-0.47},{"a":-0.34,"b":-0.45},{"a":-0.31,"b":-0.46},{"a":-0.27,"b":-0.47},{"a":-0.25,"b":-0.455},{"a":-0.22,"b":-0.465},{"a":-0.18,"b":-0.45},{"a":-0.15,"b":-0.47},{"a":-0.12,"b":-0.455},{"a":-0.09,"b":-0.465},{"a":-0.06,"b":-0.45},{"a":-0.04,"b":-0.47},{"a":0,"b":-0.455},{"a":0.02,"b":-0.465},{"a":0.05,"b":-0.45},{"a":0.08,"b":-0.47},{"a":0.11,"b":-0.46},{"a":0.14,"b":-0.45},{"a":0.17,"b":-0.465},{"a":0.21,"b":-0.455},{"a":0.23,"b":-0.47},{"a":0.26,"b":-0.45},{"a":0.29,"b":-0.465},{"a":0.33,"b":-0.455},{"a":0.35,"b":-0.47},{"a":0.39,"b":-0.45},{"a":0.41,"b":-0.465},{"a":0.44,"b":-0.455},{"a":0.47,"b":-0.47},{"a":0.5,"b":-0.45},
{"a":-0.5,"b":-0.49},{"a":-0.48,"b":-0.48},{"a":-0.44,"b":-0.495},{"a":-0.42,"b":-0.485},{"a":-0.39,"b":-0.5},{"a":-0.36,"b":-0.48},{"a":-0.33,"b":-0.49},{"a":-0.3,"b":-0.5},{"a":-0.26,"b":-0.485},{"a":-0.24,"b":-0.495},{"a":-0.21,"b":-0.48},{"a":-0.19,"b":-0.49},{"a":-0.14,"b":-0.5},{"a":-0.12,"b":-0.48},{"a":-0.1,"b":-0.495},{"a":-0.07,"b":-0.485},{"a":-0.03,"b":-0.49},{"a":-0.01,"b":-0.5},{"a":0.03,"b":-0.48},{"a":0.06,"b":-0.495},{"a":0.09,"b":-0.485},{"a":0.12,"b":-0.5},{"a":0.16,"b":-0.48},{"a":0.18,"b":-0.49},{"a":0.2,"b":-0.5},{"a":0.24,"b":-0.485},{"a":0.27,"b":-0.495},{"a":0.31,"b":-0.48},{"a":0.34,"b":-0.49},{"a":0.37,"b":-0.5},{"a":0.4,"b":-0.485},{"a":0.43,"b":-0.495},{"a":0.45,"b":-0.48},{"a":0.49,"b":-0.49}
]
},
"layer":[
{"data":{"name":"minor"},"mark":{"type":"rule","color":"#f3f3f3","strokeWidth":1},"encoding":{"x":{"field":"v","type":"quantitative","scale":{"domain":[-0.55,0.55],"nice":false,"zero":false},"axis":{"title":"A1","values":[-0.5,-0.25,0,0.25,0.5],"format":".2f","titlePadding":10}}}},
{"data":{"name":"minor"},"mark":{"type":"rule","color":"#f3f3f3","strokeWidth":1},"encoding":{"y":{"field":"v","type":"quantitative","scale":{"domain":[-0.55,0.55],"nice":false,"zero":false},"axis":{"title":"A2","values":[-0.5,-0.25,0,0.25,0.5],"format":".2f","titlePadding":6}}}},
{"data":{"name":"safe"},"mark":{"type":"point","filled":true,"size":53,"opacity":1,"strokeWidth":0},
"encoding":{
"x":{"field":"a","type":"quantitative","axis":{"title":"A1","values":[-0.5,-0.25,0,0.25,0.5],"format":".2f","titlePadding":10}},
"y":{"field":"b","type":"quantitative","axis":{"title":"A2","values":[-0.5,-0.25,0,0.25,0.5],"format":".2f","titlePadding":6}},
"shape":{"datum":"MIN−SAFE","type":"nominal","scale":{"domain":["MIN−SAFE","MIN−BORDER","MAJ"],"range":["circle","square","M-1,-1L1,1M-1,1L1,-1"]},"legend":null},
"color":{"datum":"MIN−SAFE","type":"nominal","scale":{"domain":["MIN−SAFE","MIN−BORDER","MAJ"],"range":["#000000","#000000","#c8c8c8"]},
"legend":{"title":"LABEL","orient":"none","legendX":66,"legendY":565,"direction":"horizontal","titleOrient":"left","symbolSize":110,"labelFontSize":14.3,"titleFontSize":14.3,"titleFontWeight":"normal","titleColor":"#000000","labelColor":"#000000","columnPadding":15,"labelOffset":5,"titlePadding":6,
"encode":{"symbols":{"update":{"fill":{"scale":"color","field":"value"},"stroke":{"scale":"color","field":"value"},"strokeWidth":{"value":1},"shape":{"scale":"shape","field":"value"}}}}}}
}},
{"data":{"name":"border"},"mark":{"type":"point","filled":true,"size":64,"opacity":1,"strokeWidth":0},
"encoding":{
"x":{"field":"a","type":"quantitative"},
"y":{"field":"b","type":"quantitative"},
"shape":{"datum":"MIN−BORDER","type":"nominal","legend":null},
"color":{"datum":"MIN−BORDER","type":"nominal"}
}},
{"data":{"name":"maj"},"mark":{"type":"point","filled":false,"size":76,"opacity":1,"strokeWidth":1},
"encoding":{
"x":{"field":"a","type":"quantitative"},
"y":{"field":"b","type":"quantitative"},
"shape":{"datum":"MAJ","type":"nominal","legend":null},
"color":{"datum":"MAJ","type":"nominal"}
}}
]
}
